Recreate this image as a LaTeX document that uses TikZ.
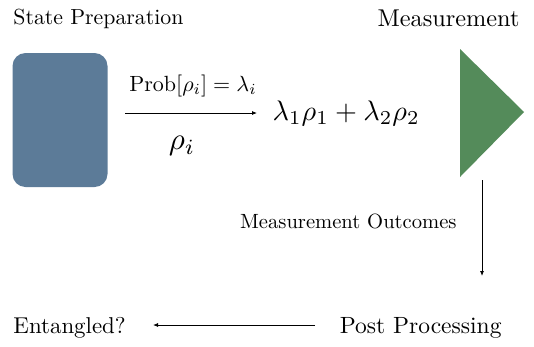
\documentclass[tikz,border=0pt]{standalone}
\usetikzlibrary{arrows.meta}
\definecolor{boxblue}{RGB}{92,123,152}
\definecolor{trigreen}{RGB}{84,139,90}
\tikzset{
  lbl/.style={inner sep=0pt, scale=2.18},
  big/.style={inner sep=0pt, scale=2.35},
  conn/.style={-{Latex[length=5pt,width=4pt]}, line width=0.8pt},
}
\begin{document}
\begin{tikzpicture}[x=1pt,y=-1pt]
\useasboundingbox (0,0) rectangle (534,346);
\node[lbl, anchor=base west] (sp) at (13,24) {State Preparation};
\node[big, scale=2.43/2.35, anchor=base east] (ms) at (520,26) {Measurement};
\node[draw=none, fill=boxblue, rounded corners=13pt, minimum width=95pt, minimum height=134pt, inner sep=0pt] (box) at (60,120) {};
\fill[trigreen] (460,49) coordinate (t1) -- (524,112) coordinate (t2) -- (460,177) coordinate (t3) -- cycle;
\coordinate (a1) at (125,113);
\coordinate (a2) at (257,113);
\node[inner sep=0pt, anchor=west, scale=2.82] (mix) at (272,113) {$\lambda_1\rho_1+\lambda_2\rho_2$};
\draw[conn] (a1) -- (a2);
\node[inner sep=0pt, scale=2.2] (prob) at (193,86) {$\mathrm{Prob}[\rho_i]=\lambda_i$};
\node[inner sep=0pt, scale=3.1] (rho) at (182,146) {$\rho_i$};
\coordinate (m1) at (482,180);
\coordinate (m2) at (482,276);
\draw[conn] (m1) -- (m2);
\node[lbl, scale=2.06/2.18, anchor=base east] (mo) at (457,228) {Measurement Outcomes};
\node[big, anchor=base east] (pp) at (502,333) {Post Processing};
\node[big, scale=2.29/2.35, anchor=base west] (ent) at (13,333) {Entangled?};
\coordinate (p1) at (315,325);
\coordinate (p2) at (153,325);
\draw[conn] (p1) -- (p2);
\end{tikzpicture}
\end{document}
